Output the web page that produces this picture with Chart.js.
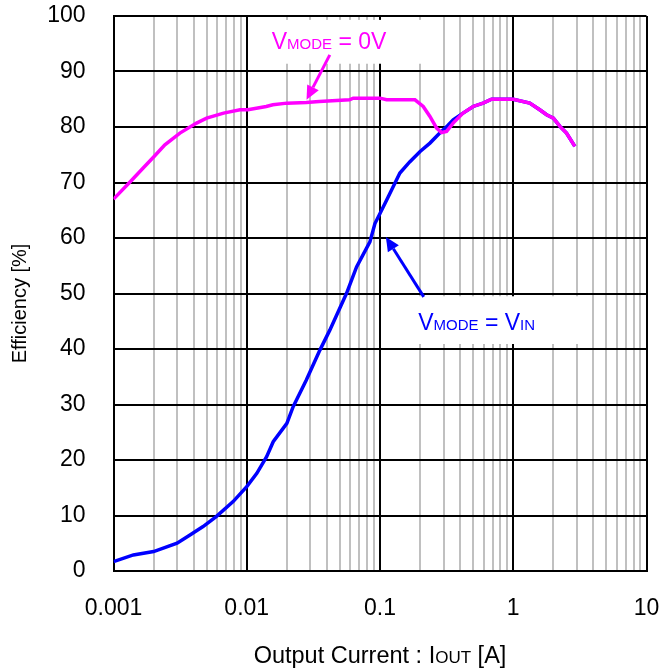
<!DOCTYPE html>
<html>
<head>
<meta charset="utf-8">
<script src="https://cdn.jsdelivr.net/npm/chart.js@4.4.1/dist/chart.umd.min.js"></script>
<style>
  html, body { margin: 0; padding: 0; background: #fff; }
  #c { display: block; }
</style>
</head>
<body>
<canvas id="c" width="660" height="672"></canvas>
<script>
// ---------- data ----------
const currentZeroV = [0.001, 0.00133, 0.00167, 0.002, 0.00243, 0.00315, 0.0042, 0.005, 0.0067, 0.0089, 0.0102, 0.014, 0.0157, 0.02, 0.028, 0.035, 0.059, 0.063, 0.1, 0.112, 0.183, 0.211, 0.237, 0.266, 0.29, 0.316, 0.354, 0.42, 0.5, 0.594, 0.687, 1.0, 1.33, 1.58, 1.78, 2.0, 2.24, 2.51, 2.9];
const effZeroV     = [67.0, 70.1, 72.6, 74.6, 76.8, 78.9, 80.7, 81.6, 82.5, 83.1, 83.1, 83.7, 84.0, 84.3, 84.4, 84.6, 84.9, 85.2, 85.2, 84.9, 84.9, 83.7, 81.9, 79.8, 79.0, 79.2, 80.7, 82.5, 83.7, 84.3, 85.0, 85.0, 84.3, 83.1, 82.2, 81.6, 80.1, 78.9, 76.5];

const currentVin = [0.001, 0.00141, 0.002, 0.003, 0.00375, 0.0047, 0.0059, 0.0079, 0.01, 0.0119, 0.0141, 0.0158, 0.02, 0.0223, 0.028, 0.0354, 0.042, 0.056, 0.0667, 0.084, 0.0916, 0.1, 0.112, 0.141, 0.167, 0.2, 0.237, 0.281, 0.32, 0.354, 0.42, 0.5, 0.594, 0.687, 1.0, 1.33, 1.58, 1.78, 2.0, 2.24, 2.51, 2.9];
const effVin     = [1.7, 2.9, 3.5, 5.0, 6.5, 8.0, 9.8, 12.5, 15.2, 17.6, 20.6, 23.3, 26.6, 29.6, 34.4, 39.8, 43.4, 50.0, 54.8, 59.3, 62.6, 64.4, 66.8, 71.7, 73.7, 75.6, 77.1, 78.9, 80.2, 81.3, 82.5, 83.7, 84.3, 85.0, 85.0, 84.3, 83.1, 82.2, 81.6, 80.1, 78.9, 76.5];

const decadeValues = [0.001, 0.01, 0.1, 1, 10];
const decadeLabels = ['0.001', '0.01', '0.1', '1', '10'];
const minorMultipliers = [1, 2, 3, 4, 5, 6, 7, 8, 9];
const yTickStep = 10;

const FONT = "'Liberation Sans', Arial, Helvetica, sans-serif";
const MAGENTA = '#ff00ff';
const BLUE = '#0000ff';

// annotation anchors in data coordinates
const annZero = { box: [0.013, 99.3, 0.258, 91.4], text: [0.0154, 94.0], arrowFrom: [0.042, 93.0], arrowTo: [0.0281, 84.9] };
const annVin  = { box: [0.1675, 49.5, 3.76, 40.9], text: [0.1936, 43.5], arrowFrom: [0.213, 49.4], arrowTo: [0.1107, 60.2] };

// ---------- helpers ----------
const tickValues = [];
for (let d = 0; d < decadeValues.length - 1; d++) {
  for (const m of minorMultipliers) tickValues.push(parseFloat((decadeValues[d] * m).toPrecision(6)));
}
tickValues.push(decadeValues[decadeValues.length - 1]);

function isDecade(v) {
  return decadeValues.some(d => Math.abs(Math.log10(v) - Math.log10(d)) < 1e-6);
}
function decadeLabel(v) {
  const i = decadeValues.findIndex(d => Math.abs(Math.log10(v) - Math.log10(d)) < 1e-6);
  return i >= 0 ? decadeLabels[i] : '';
}

function drawMixed(ctx, parts, x, y, align, color) {
  ctx.save();
  ctx.fillStyle = color;
  ctx.textBaseline = 'alphabetic';
  ctx.textAlign = 'left';
  let total = 0;
  const widths = parts.map(p => { ctx.font = p.size + 'px ' + FONT; const w = ctx.measureText(p.t).width; total += w; return w; });
  let cx = align === 'center' ? x - total / 2 : x;
  parts.forEach((p, i) => { ctx.font = p.size + 'px ' + FONT; ctx.fillText(p.t, cx, y); cx += widths[i]; });
  ctx.restore();
}

function arrow(ctx, x1, y1, x2, y2, color) {
  const ang = Math.atan2(y2 - y1, x2 - x1);
  const headLen = 14, headW = 6.5;
  const bx = x2 - headLen * Math.cos(ang), by = y2 - headLen * Math.sin(ang);
  ctx.save();
  ctx.strokeStyle = color; ctx.fillStyle = color; ctx.lineWidth = 3;
  ctx.beginPath(); ctx.moveTo(x1, y1); ctx.lineTo(bx, by); ctx.stroke();
  ctx.beginPath();
  ctx.moveTo(x2, y2);
  ctx.lineTo(bx + headW * Math.sin(ang), by - headW * Math.cos(ang));
  ctx.lineTo(bx - headW * Math.sin(ang), by + headW * Math.cos(ang));
  ctx.closePath(); ctx.fill();
  ctx.restore();
}

const annotPlugin = {
  id: 'annot',
  beforeDatasetsDraw(chart) {
    const { ctx, scales: { x, y } } = chart;
    ctx.save();
    ctx.fillStyle = '#fff';
    for (const a of [annZero, annVin]) {
      const x1 = x.getPixelForValue(a.box[0]), y1 = y.getPixelForValue(a.box[1]);
      const x2 = x.getPixelForValue(a.box[2]), y2 = y.getPixelForValue(a.box[3]);
      ctx.fillRect(x1, y1, x2 - x1, y2 - y1);
    }
    ctx.restore();
  },
  afterDatasetsDraw(chart) {
    const { ctx, scales: { x, y } } = chart;
    arrow(ctx, x.getPixelForValue(annZero.arrowFrom[0]), y.getPixelForValue(annZero.arrowFrom[1]),
               x.getPixelForValue(annZero.arrowTo[0]), y.getPixelForValue(annZero.arrowTo[1]), MAGENTA);
    drawMixed(ctx, [{ t: 'V', size: 23 }, { t: 'MODE', size: 15 }, { t: ' = 0V', size: 23 }],
      x.getPixelForValue(annZero.text[0]), y.getPixelForValue(annZero.text[1]), 'left', MAGENTA);
    arrow(ctx, x.getPixelForValue(annVin.arrowFrom[0]), y.getPixelForValue(annVin.arrowFrom[1]),
               x.getPixelForValue(annVin.arrowTo[0]), y.getPixelForValue(annVin.arrowTo[1]), BLUE);
    drawMixed(ctx, [{ t: 'V', size: 23 }, { t: 'MODE', size: 15 }, { t: ' = V', size: 23 }, { t: 'IN', size: 15 }],
      x.getPixelForValue(annVin.text[0]), y.getPixelForValue(annVin.text[1]), 'left', BLUE);
  },
  afterDraw(chart) {
    const { ctx, chartArea } = chart;
    drawMixed(ctx, [{ t: 'Output Current : I', size: 23.5 }, { t: 'OUT', size: 17 }, { t: ' [A]', size: 23.5 }],
      (chartArea.left + chartArea.right) / 2, 663, 'center', '#000');
    ctx.save();
    ctx.translate(26, (chartArea.top + chartArea.bottom) / 2 + 10);
    ctx.rotate(-Math.PI / 2);
    ctx.font = '20px ' + FONT;
    ctx.fillStyle = '#000';
    ctx.textAlign = 'center';
    ctx.textBaseline = 'alphabetic';
    ctx.fillText('Efficiency [%]', 0, 0);
    ctx.restore();
  }
};

new Chart(document.getElementById('c'), {
  type: 'line',
  data: {
    datasets: [
      { label: 'VMODE = 0V', data: currentZeroV.map((c, i) => ({ x: c, y: effZeroV[i] })),
        borderColor: MAGENTA, borderWidth: 3.5, pointRadius: 0, tension: 0, fill: false },
      { label: 'VMODE = VIN', data: currentVin.map((c, i) => ({ x: c, y: effVin[i] })),
        borderColor: BLUE, borderWidth: 3.5, pointRadius: 0, tension: 0, fill: false }
    ]
  },
  options: {
    responsive: false,
    animation: false,
    layout: { padding: { left: 0, right: 13.5, top: 16, bottom: 0 } },
    plugins: { legend: { display: false }, tooltip: { enabled: false } },
    scales: {
      x: {
        type: 'logarithmic',
        min: 0.001, max: 10,
        afterBuildTicks: s => { s.ticks = tickValues.map(v => ({ value: v })); },
        afterFit: s => { s.height = 101; },
        ticks: {
          autoSkip: false, maxRotation: 0, minRotation: 0, padding: 0,
          color: '#000', font: { size: 23, family: FONT },
          callback: v => decadeLabel(v)
        },
        grid: {
          drawTicks: true, tickLength: 24, tickColor: 'rgba(0,0,0,0)', lineWidth: 2,
          color: c => (c.tick && isDecade(c.tick.value)) ? '#000' : '#c0c0c0'
        },
        border: { display: true, color: '#000', width: 2 }
      },
      y: {
        min: 0, max: 100,
        afterFit: s => { s.width = 113.5; },
        ticks: { stepSize: yTickStep, padding: 0, color: '#000', font: { size: 23, family: FONT } },
        grid: { drawTicks: true, tickLength: 28, tickColor: 'rgba(0,0,0,0)', lineWidth: 2, color: '#000' },
        border: { display: true, color: '#000', width: 2 }
      }
    }
  },
  plugins: [annotPlugin]
});
</script>
</body>
</html>
